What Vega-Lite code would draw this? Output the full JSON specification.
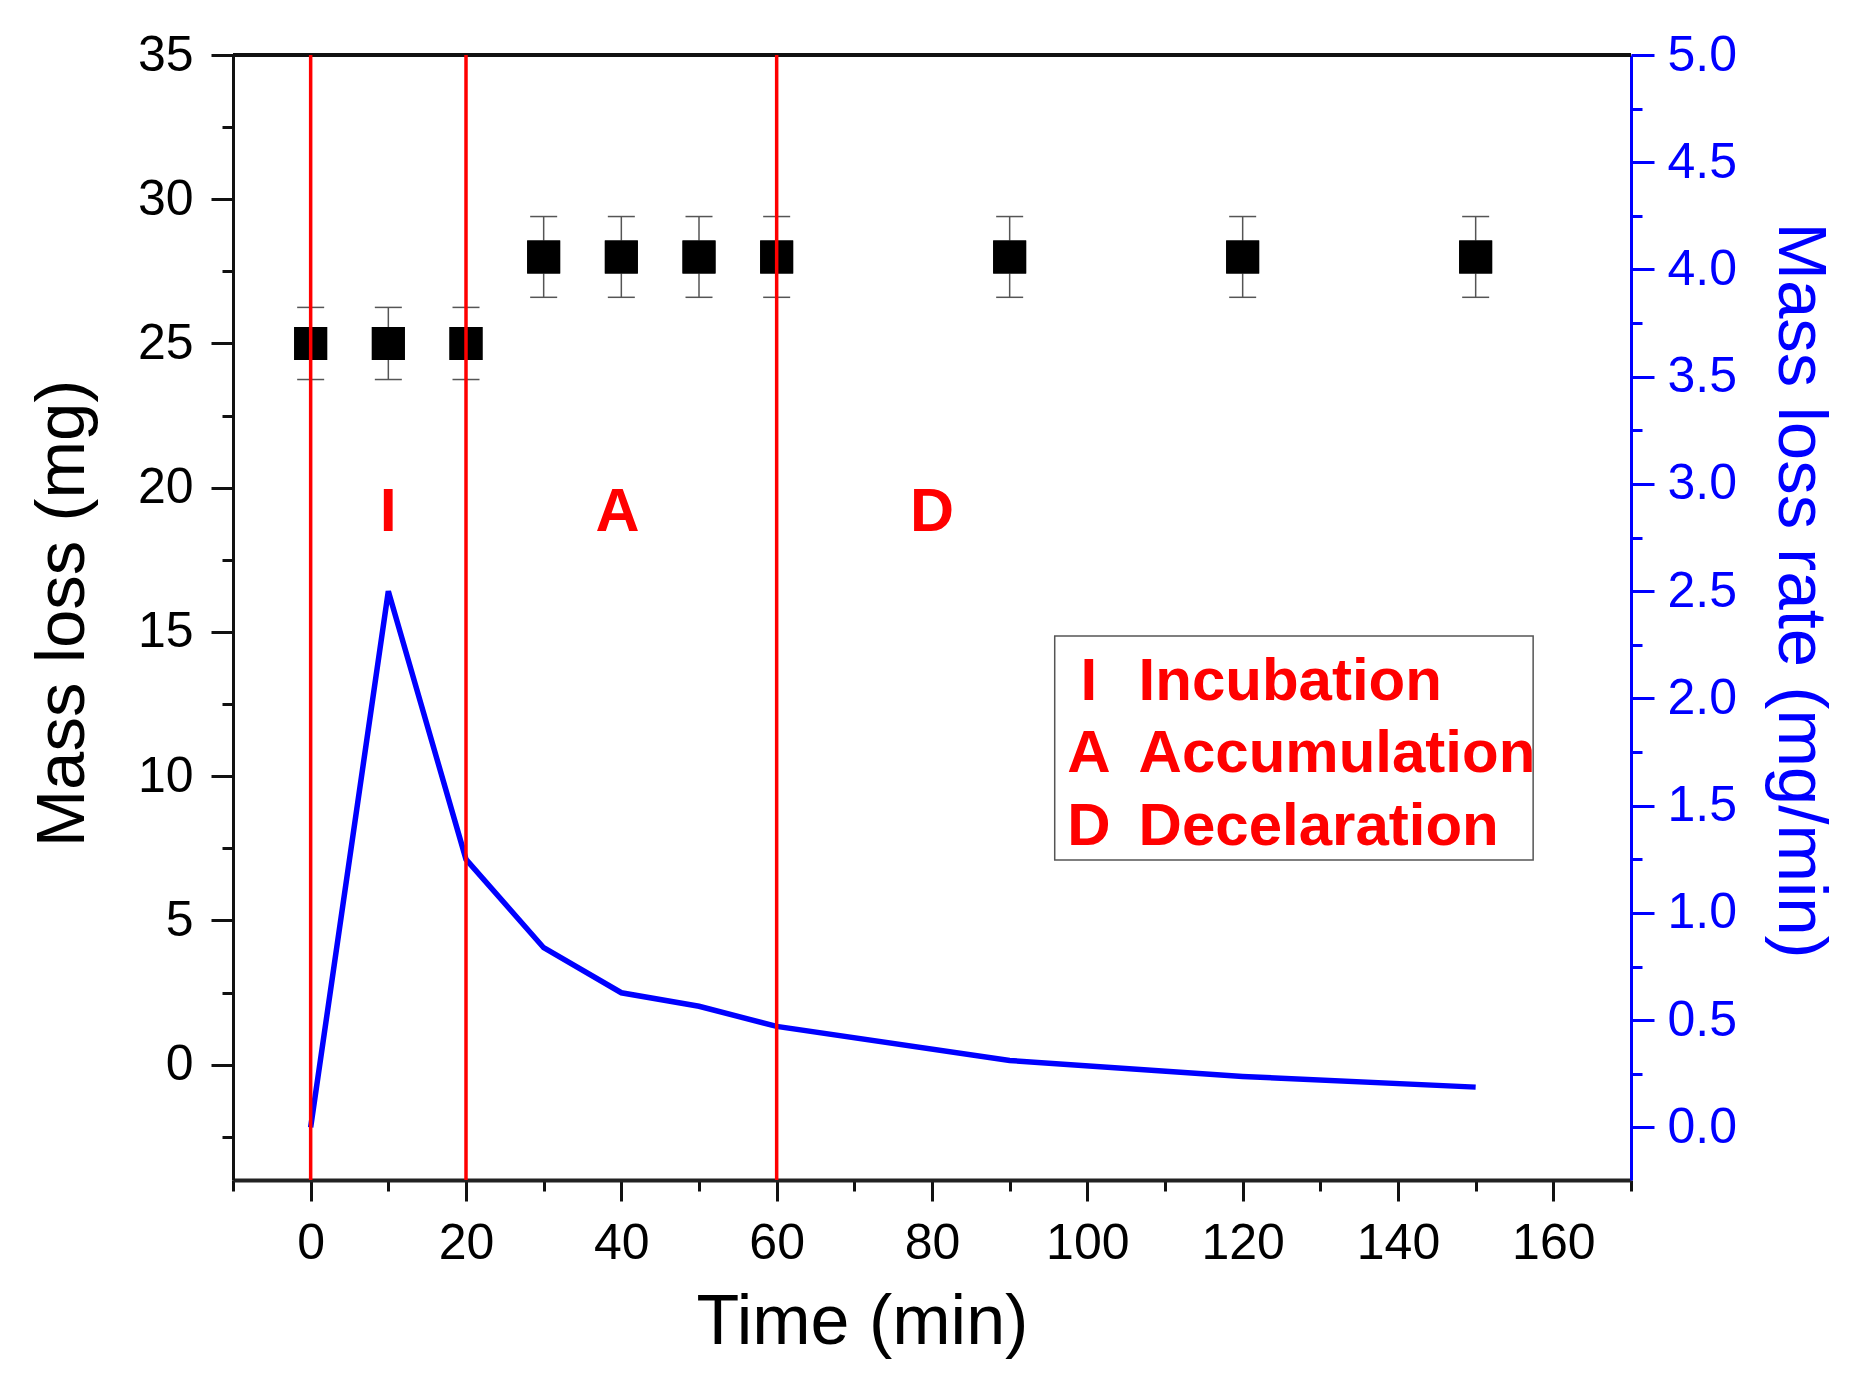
{
  "$schema": "https://vega.github.io/schema/vega-lite/v6.json",
  "autosize": {"type": "none"},
  "padding": {"left": 233, "top": 55, "right": 225, "bottom": 208},
  "width": 1398,
  "height": 1125,
  "background": "white",
  "config": {
    "view": {"stroke": null},
    "font": "Liberation Sans",
    "axis": {"grid": false, "labelOverlap": false, "labelFlush": false, "labelBound": false, "labelFont": "Liberation Sans", "titleFont": "Liberation Sans"}
  },
  "datasets": {
    "mass": [
      {"time": 0, "mass": 25, "lo": 23.75, "hi": 26.25},
      {"time": 10, "mass": 25, "lo": 23.75, "hi": 26.25},
      {"time": 20, "mass": 25, "lo": 23.75, "hi": 26.25},
      {"time": 30, "mass": 28, "lo": 26.6, "hi": 29.4},
      {"time": 40, "mass": 28, "lo": 26.6, "hi": 29.4},
      {"time": 50, "mass": 28, "lo": 26.6, "hi": 29.4},
      {"time": 60, "mass": 28, "lo": 26.6, "hi": 29.4},
      {"time": 90, "mass": 28, "lo": 26.6, "hi": 29.4},
      {"time": 120, "mass": 28, "lo": 26.6, "hi": 29.4},
      {"time": 150, "mass": 28, "lo": 26.6, "hi": 29.4}
    ],
    "rate": [
      {"time": 0, "rate": 0.0},
      {"time": 10, "rate": 2.5},
      {"time": 20, "rate": 1.25},
      {"time": 30, "rate": 0.838},
      {"time": 40, "rate": 0.628},
      {"time": 50, "rate": 0.565},
      {"time": 60, "rate": 0.471},
      {"time": 90, "rate": 0.312},
      {"time": 120, "rate": 0.238},
      {"time": 150, "rate": 0.188}
    ],
    "phases": [
      {"code": "I", "time": 10, "level": 18.5},
      {"code": "A", "time": 39.5, "level": 18.5},
      {"code": "D", "time": 80, "level": 18.5}
    ],
    "boundaries": [{"time": 0}, {"time": 20}, {"time": 60}],
    "key": [
      {"code": "I", "name": "Incubation", "codeAt": 100.2, "nameAt": 106.6, "level": 12.65},
      {"code": "A", "name": "Accumulation", "codeAt": 100.2, "nameAt": 106.6, "level": 10.13},
      {"code": "D", "name": "Decelaration", "codeAt": 100.2, "nameAt": 106.6, "level": 7.61}
    ],
    "frame": [{"top": 35, "boxLeft": 95.8, "boxRight": 157.4, "boxBottom": 7.09, "boxTop": 14.86}]
  },
  "layer": [
    {
      "data": {"name": "mass"},
      "mark": {"type": "point", "shape": "square", "filled": true, "size": 1089, "color": "#000000", "opacity": 1, "strokeWidth": 0},
      "encoding": {
        "x": {
          "field": "time", "type": "quantitative",
          "scale": {"domain": [-10, 170], "nice": false, "zero": false},
          "axis": {
            "orient": "bottom",
            "values": [-10, 0, 10, 20, 30, 40, 50, 60, 70, 80, 90, 100, 110, 120, 130, 140, 150, 160, 170],
            "labelExpr": "(datum.value % 20 === 0 && datum.value >= 0 && datum.value <= 160) ? datum.label : ''",
            "tickSize": {"condition": {"test": "datum.value % 20 === 0", "value": 21}, "value": 11},
            "tickWidth": 3,
            "tickColor": "#111111",
            "domainColor": "#222222",
            "domainWidth": 4,
            "labelFontSize": 50,
            "labelColor": "#000000",
            "labelPadding": 17,
            "title": "Time (min)",
            "titleFontSize": 70,
            "titleFontWeight": "normal",
            "titleColor": "#000000",
            "titleX": 629,
            "titleY": 163,
            "titleAlign": "center",
            "titleBaseline": "alphabetic",
            "titleAngle": 0
          }
        },
        "y": {
          "field": "mass", "type": "quantitative",
          "scale": {"domain": [-4, 35], "nice": false, "zero": false},
          "axis": {
            "orient": "left",
            "values": [-2.5, 0, 2.5, 5, 7.5, 10, 12.5, 15, 17.5, 20, 22.5, 25, 27.5, 30, 32.5, 35],
            "labelExpr": "datum.value % 5 === 0 ? datum.label : ''",
            "tickSize": {"condition": {"test": "datum.value % 5 === 0", "value": 22}, "value": 11},
            "tickWidth": 3,
            "tickColor": "#111111",
            "domainColor": "#111111",
            "domainWidth": 3,
            "labelFontSize": 50,
            "labelColor": "#000000",
            "labelPadding": 18,
            "title": "Mass loss (mg)",
            "titleFontSize": 69,
            "titleFontWeight": "normal",
            "titleColor": "#000000",
            "titleAngle": -90,
            "titleX": -150,
            "titleY": 558,
            "titleAlign": "center",
            "titleBaseline": "alphabetic"
          }
        }
      }
    },
    {
      "data": {"name": "frame"},
      "mark": {"type": "rect", "fill": "#ffffff", "stroke": "#555555", "strokeWidth": 1.5},
      "encoding": {
        "x": {"field": "boxLeft", "type": "quantitative"},
        "x2": {"field": "boxRight"},
        "y": {"field": "boxBottom", "type": "quantitative", "scale": {"domain": [-4, 35], "nice": false, "zero": false}, "axis": null},
        "y2": {"field": "boxTop"}
      }
    },
    {
      "data": {"name": "mass"},
      "mark": {"type": "rule", "color": "#555555", "strokeWidth": 1.5},
      "encoding": {
        "x": {"field": "time", "type": "quantitative"},
        "y": {"field": "lo", "type": "quantitative", "scale": {"domain": [-4, 35], "nice": false, "zero": false}, "axis": null},
        "y2": {"field": "hi"}
      }
    },
    {
      "data": {"name": "mass"},
      "mark": {"type": "tick", "orient": "horizontal", "color": "#555555", "size": 27, "thickness": 1.5, "opacity": 1},
      "encoding": {
        "x": {"field": "time", "type": "quantitative"},
        "y": {"field": "lo", "type": "quantitative", "scale": {"domain": [-4, 35], "nice": false, "zero": false}, "axis": null}
      }
    },
    {
      "data": {"name": "mass"},
      "mark": {"type": "tick", "orient": "horizontal", "color": "#555555", "size": 27, "thickness": 1.5, "opacity": 1},
      "encoding": {
        "x": {"field": "time", "type": "quantitative"},
        "y": {"field": "hi", "type": "quantitative", "scale": {"domain": [-4, 35], "nice": false, "zero": false}, "axis": null}
      }
    },
    {
      "data": {"name": "mass"},
      "mark": {"type": "point", "shape": "square", "filled": true, "size": 1089, "color": "#000000", "opacity": 1, "strokeWidth": 0},
      "encoding": {
        "x": {"field": "time", "type": "quantitative"},
        "y": {"field": "mass", "type": "quantitative", "scale": {"domain": [-4, 35], "nice": false, "zero": false}, "axis": null}
      }
    },
    {
      "data": {"name": "frame"},
      "mark": {"type": "rule", "color": "#111111", "strokeWidth": 4},
      "encoding": {
        "y": {"field": "top", "type": "quantitative", "scale": {"domain": [-4, 35], "nice": false, "zero": false}, "axis": null}
      }
    },
    {
      "data": {"name": "phases"},
      "mark": {"type": "text", "font": "Liberation Sans", "fontWeight": "bold", "fontSize": 61, "color": "#ff0000", "align": "center", "baseline": "alphabetic"},
      "encoding": {
        "x": {"field": "time", "type": "quantitative"},
        "y": {"field": "level", "type": "quantitative", "scale": {"domain": [-4, 35], "nice": false, "zero": false}, "axis": null},
        "text": {"field": "code"}
      }
    },
    {
      "data": {"name": "key"},
      "mark": {"type": "text", "font": "Liberation Sans", "fontWeight": "bold", "fontSize": 60, "color": "#ff0000", "align": "center", "baseline": "alphabetic"},
      "encoding": {
        "x": {"field": "codeAt", "type": "quantitative"},
        "y": {"field": "level", "type": "quantitative", "scale": {"domain": [-4, 35], "nice": false, "zero": false}, "axis": null},
        "text": {"field": "code"}
      }
    },
    {
      "data": {"name": "key"},
      "mark": {"type": "text", "font": "Liberation Sans", "fontWeight": "bold", "fontSize": 60, "color": "#ff0000", "align": "left", "baseline": "alphabetic"},
      "encoding": {
        "x": {"field": "nameAt", "type": "quantitative"},
        "y": {"field": "level", "type": "quantitative", "scale": {"domain": [-4, 35], "nice": false, "zero": false}, "axis": null},
        "text": {"field": "name"}
      }
    },
    {
      "data": {"name": "rate"},
      "mark": {"type": "line", "color": "#0000ff", "strokeWidth": 5.5, "strokeJoin": "miter"},
      "encoding": {
        "x": {"field": "time", "type": "quantitative"},
        "y": {
          "field": "rate", "type": "quantitative",
          "scale": {"domain": [-0.245, 5], "nice": false, "zero": false},
          "axis": {
            "orient": "right",
            "values": [0, 0.25, 0.5, 0.75, 1, 1.25, 1.5, 1.75, 2, 2.25, 2.5, 2.75, 3, 3.25, 3.5, 3.75, 4, 4.25, 4.5, 4.75, 5],
            "labelExpr": "datum.value % 0.5 === 0 ? format(datum.value, '.1f') : ''",
            "tickSize": {"condition": {"test": "datum.value % 0.5 === 0", "value": 23}, "value": 11},
            "tickWidth": 3,
            "tickColor": "#0000ff",
            "domainColor": "#0000ff",
            "domainWidth": 3,
            "labelFontSize": 50,
            "labelColor": "#0000ff",
            "labelPadding": 13,
            "title": "Mass loss rate (mg/min)",
            "titleFontSize": 69,
            "titleFontWeight": "normal",
            "titleColor": "#0000ff",
            "titleAngle": 90,
            "titleX": 147,
            "titleY": 535,
            "titleAlign": "center",
            "titleBaseline": "alphabetic"
          }
        }
      }
    },
    {
      "data": {"name": "boundaries"},
      "mark": {"type": "rule", "color": "#ff0000", "strokeWidth": 3.5},
      "encoding": {
        "x": {"field": "time", "type": "quantitative"}
      }
    }
  ],
  "resolve": {"scale": {"y": "independent"}, "axis": {"y": "independent"}}
}
